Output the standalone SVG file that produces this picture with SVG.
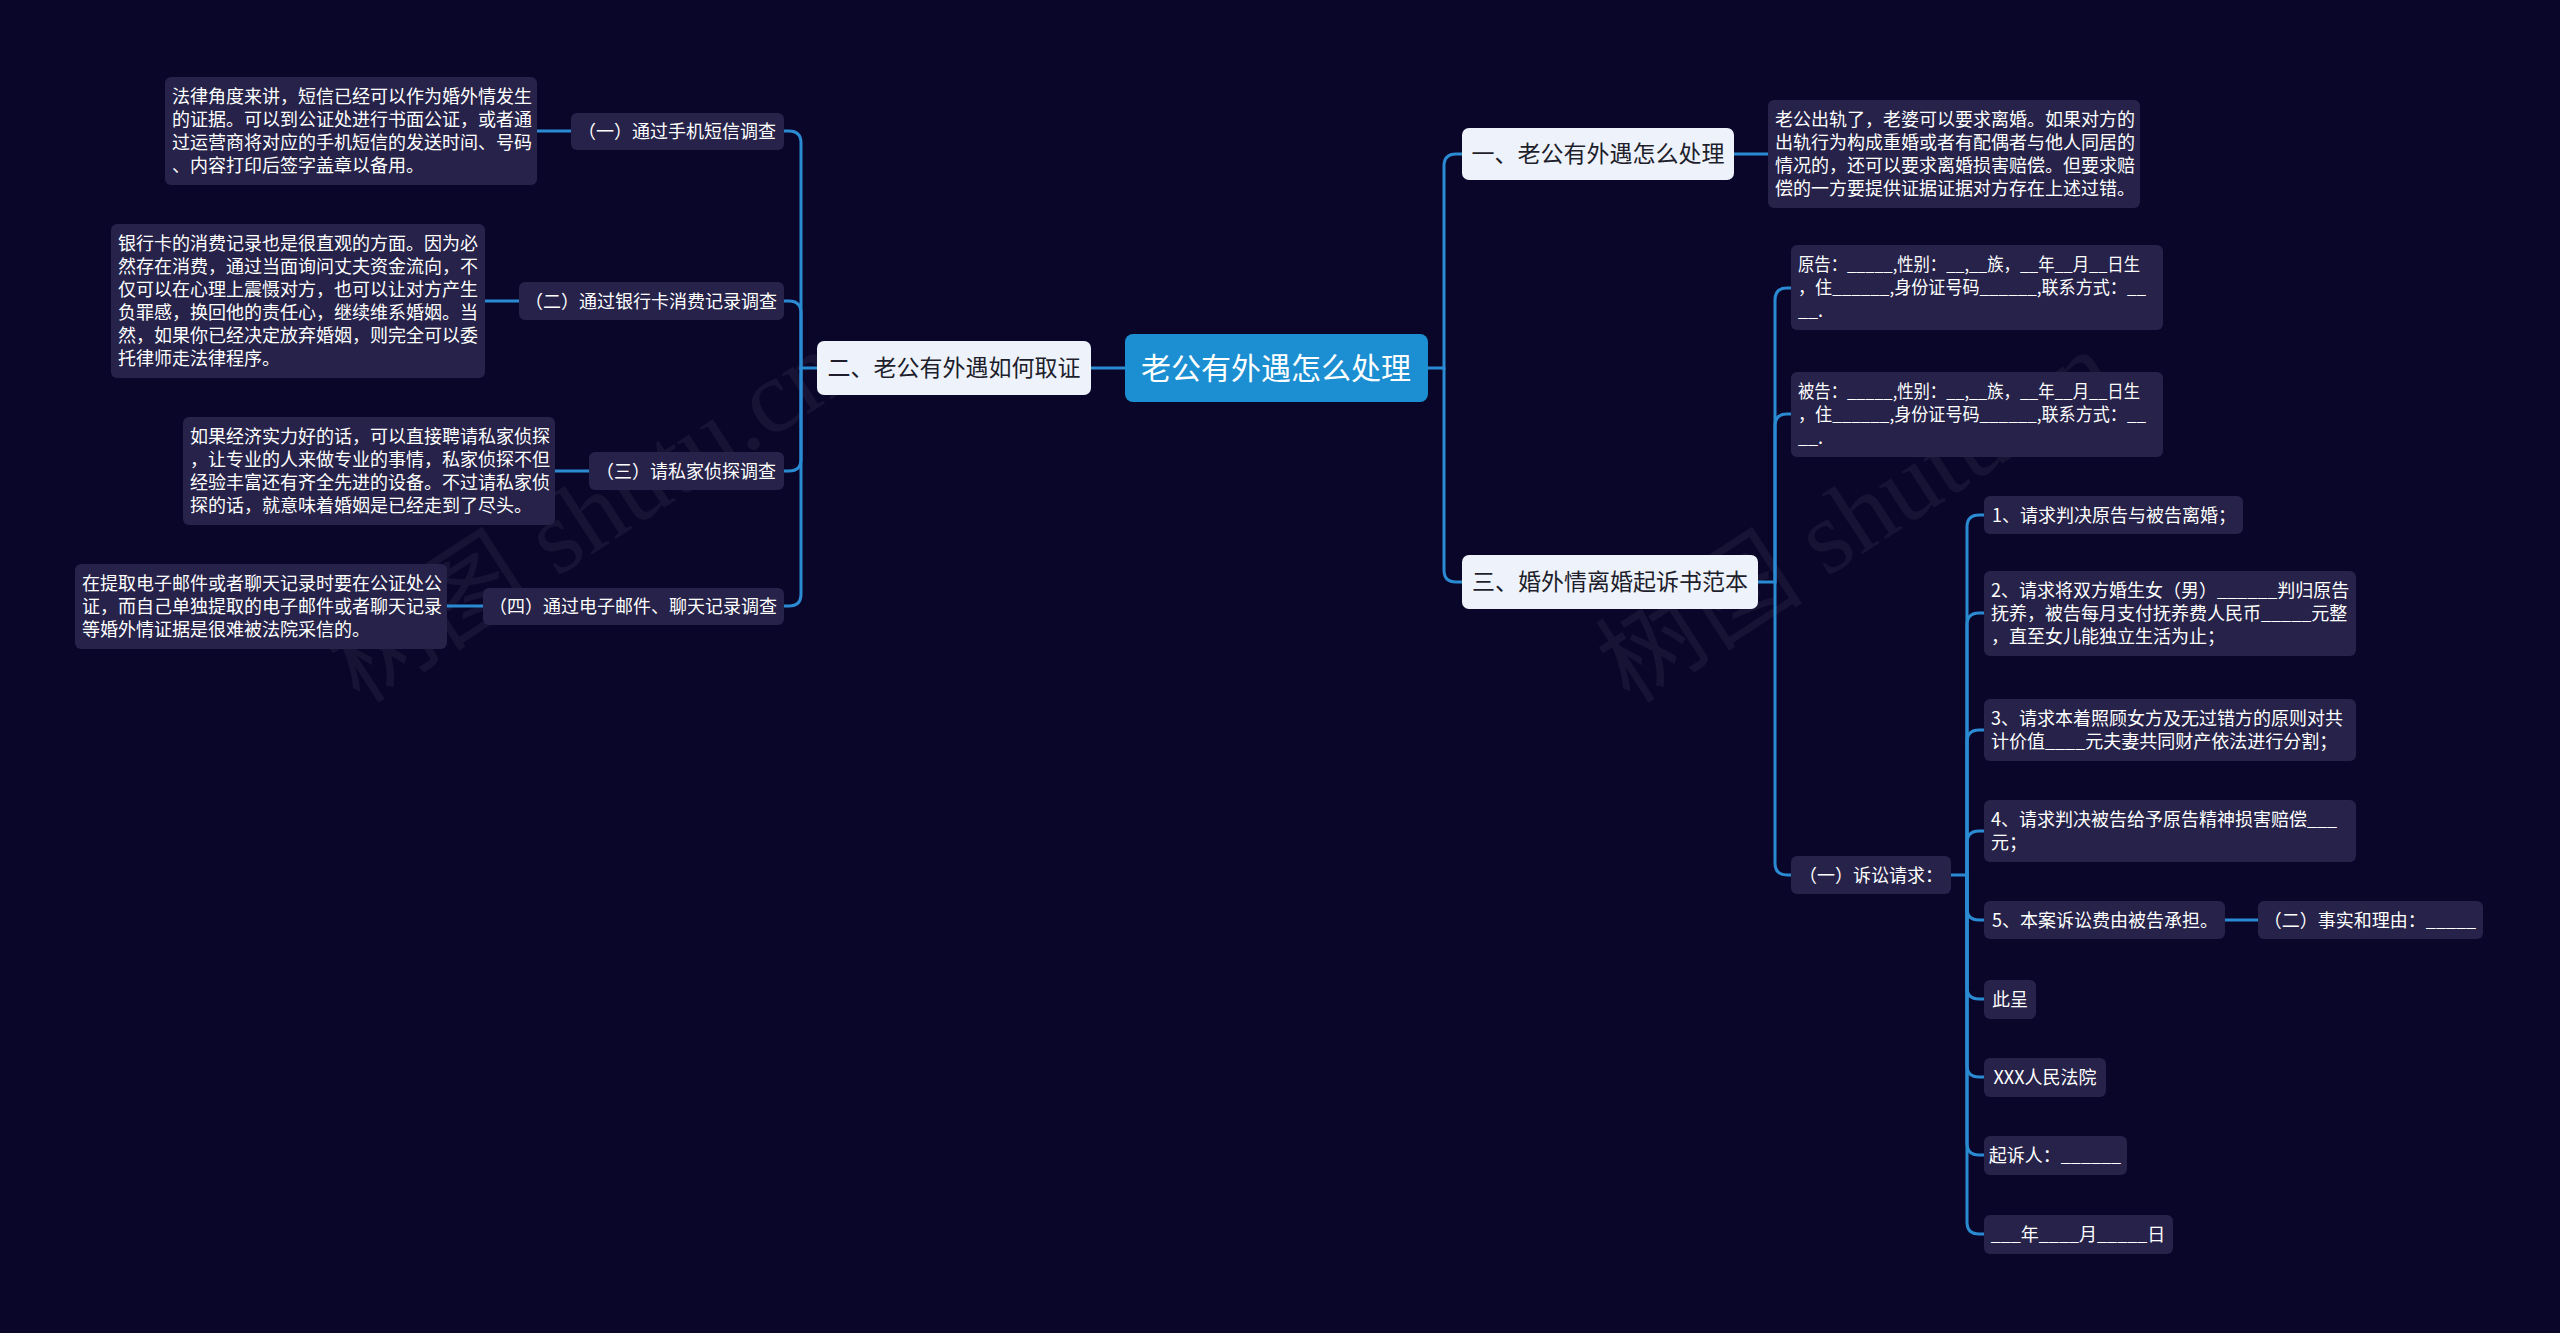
<svg xmlns="http://www.w3.org/2000/svg" width="2560" height="1333" viewBox="0 0 2560 1333">
<style>
.bg{fill:#0a062a}
.root rect{fill:#1b8fd1}
.root text{fill:#ffffff;font-size:30px}
.br rect{fill:#eef3fb}
.br text{fill:#1e1e2c;font-size:23px}
.nd rect{fill:#262249}
.nd text{fill:#ffffff;font-size:18px}
text{font-family:"Noto Sans CJK SC","Microsoft YaHei",sans-serif}
.c{text-anchor:middle}
.wm{font-family:"Liberation Serif","Noto Sans CJK SC",serif;font-size:104px;fill:#ffffff;opacity:0.05}
#connectors{fill:none;stroke:#2a8bd3;stroke-width:3;stroke-linecap:round}
</style>
<rect class="bg" x="0" y="0" width="2560" height="1333"/>
<g id="watermark">
<text class="wm" transform="translate(360,705) rotate(-33)">树图 shutu.cn</text>
<text class="wm" transform="translate(1630,705) rotate(-33)">树图 shutu.cn</text>
</g>
<g id="connectors">
<path d="M1125,368 H1091"/>
<path d="M817,368 H801 V143 Q801,131 789,131 H784"/>
<path d="M801,368 V313 Q801,301 789,301 H784"/>
<path d="M801,368 V459 Q801,471 789,471 H784"/>
<path d="M801,368 V594 Q801,606 789,606 H784"/>
<path d="M537,131 H571"/>
<path d="M485,301 H519"/>
<path d="M555,471 H589"/>
<path d="M447,606 H483"/>
<path d="M1428,368 H1444 V166 Q1444,154 1456,154 H1462"/>
<path d="M1444,368 V570 Q1444,582 1456,582 H1462"/>
<path d="M1734,154 H1768"/>
<path d="M1758,582 H1775 V300 Q1775,288 1787,288 H1791"/>
<path d="M1775,582 V426 Q1775,414 1787,414 H1791"/>
<path d="M1775,582 V863 Q1775,875 1787,875 H1791"/>
<path d="M1951,875 H1967 V527 Q1967,515 1979,515 H1984"/>
<path d="M1967,875 V625 Q1967,613 1979,613 H1984"/>
<path d="M1967,875 V742 Q1967,730 1979,730 H1984"/>
<path d="M1967,875 V843 Q1967,831 1979,831 H1984"/>
<path d="M1967,875 V908 Q1967,920 1979,920 H1984"/>
<path d="M1967,875 V987 Q1967,999 1979,999 H1984"/>
<path d="M1967,875 V1065 Q1967,1077 1979,1077 H1984"/>
<path d="M1967,875 V1143 Q1967,1155 1979,1155 H1984"/>
<path d="M1967,875 V1222 Q1967,1234 1979,1234 H1984"/>
<path d="M2225,920 H2258"/>
</g>
<g id="root" class="root"><rect x="1125" y="334" width="303" height="68" rx="8"/><text class="c" x="1276" y="379">老公有外遇怎么处理</text></g>
<g id="b2" class="br"><rect x="817" y="341" width="274" height="54" rx="7"/><text class="c" x="954" y="376">二、老公有外遇如何取证</text></g>
<g id="b1" class="br"><rect x="1462" y="128" width="272" height="52" rx="7"/><text class="c" x="1598" y="162">一、老公有外遇怎么处理</text></g>
<g id="b3" class="br"><rect x="1462" y="555" width="296" height="54" rx="7"/><text class="c" x="1610" y="590">三、婚外情离婚起诉书范本</text></g>
<g id="s1" class="nd"><rect x="571" y="113" width="213" height="37" rx="6"/><text class="c" x="677" y="138">（一）通过手机短信调查</text></g>
<g id="s2" class="nd"><rect x="519" y="282" width="265" height="38" rx="6"/><text class="c" x="651" y="308">（二）通过银行卡消费记录调查</text></g>
<g id="s3" class="nd"><rect x="589" y="452" width="195" height="38" rx="6"/><text class="c" x="686" y="478">（三）请私家侦探调查</text></g>
<g id="s4" class="nd"><rect x="483" y="588" width="301" height="37" rx="6"/><text class="c" x="633" y="613">（四）通过电子邮件、聊天记录调查</text></g>
<g id="d1" class="nd"><rect x="165" y="77" width="372" height="108" rx="6"/><text x="172"><tspan x="172" y="103">法律角度来讲，短信已经可以作为婚外情发生</tspan><tspan x="172" y="126">的证据。可以到公证处进行书面公证，或者通</tspan><tspan x="172" y="149">过运营商将对应的手机短信的发送时间、号码</tspan><tspan x="172" y="172">、内容打印后签字盖章以备用。</tspan></text></g>
<g id="d2" class="nd"><rect x="111" y="224" width="374" height="154" rx="6"/><text x="118"><tspan x="118" y="250">银行卡的消费记录也是很直观的方面。因为必</tspan><tspan x="118" y="273">然存在消费，通过当面询问丈夫资金流向，不</tspan><tspan x="118" y="296">仅可以在心理上震慑对方，也可以让对方产生</tspan><tspan x="118" y="319">负罪感，换回他的责任心，继续维系婚姻。当</tspan><tspan x="118" y="342">然，如果你已经决定放弃婚姻，则完全可以委</tspan><tspan x="118" y="365">托律师走法律程序。</tspan></text></g>
<g id="d3" class="nd"><rect x="183" y="417" width="372" height="108" rx="6"/><text x="190"><tspan x="190" y="443">如果经济实力好的话，可以直接聘请私家侦探</tspan><tspan x="190" y="466">，让专业的人来做专业的事情，私家侦探不但</tspan><tspan x="190" y="489">经验丰富还有齐全先进的设备。不过请私家侦</tspan><tspan x="190" y="512">探的话，就意味着婚姻是已经走到了尽头。</tspan></text></g>
<g id="d4" class="nd"><rect x="75" y="564" width="372" height="85" rx="6"/><text x="82"><tspan x="82" y="590">在提取电子邮件或者聊天记录时要在公证处公</tspan><tspan x="82" y="613">证，而自己单独提取的电子邮件或者聊天记录</tspan><tspan x="82" y="636">等婚外情证据是很难被法院采信的。</tspan></text></g>
<g id="r1" class="nd"><rect x="1768" y="100" width="372" height="108" rx="6"/><text x="1775"><tspan x="1775" y="126">老公出轨了，老婆可以要求离婚。如果对方的</tspan><tspan x="1775" y="149">出轨行为构成重婚或者有配偶者与他人同居的</tspan><tspan x="1775" y="172">情况的，还可以要求离婚损害赔偿。但要求赔</tspan><tspan x="1775" y="195">偿的一方要提供证据证据对方存在上述过错。</tspan></text></g>
<g id="p1" class="nd"><rect x="1791" y="245" width="372" height="85" rx="6"/><text x="1798"><tspan x="1798" y="271" textLength="342" lengthAdjust="spacingAndGlyphs">原告：_____,性别：__,__族，__年__月__日生</tspan><tspan x="1798" y="294" textLength="348" lengthAdjust="spacingAndGlyphs">，住______,身份证号码______,联系方式：__</tspan><tspan x="1798" y="317">__.</tspan></text></g>
<g id="p2" class="nd"><rect x="1791" y="372" width="372" height="85" rx="6"/><text x="1798"><tspan x="1798" y="398" textLength="342" lengthAdjust="spacingAndGlyphs">被告：_____,性别：__,__族，__年__月__日生</tspan><tspan x="1798" y="421" textLength="348" lengthAdjust="spacingAndGlyphs">，住______,身份证号码______,联系方式：__</tspan><tspan x="1798" y="444">__.</tspan></text></g>
<g id="q" class="nd"><rect x="1791" y="856" width="160" height="38" rx="6"/><text class="c" x="1871" y="882">（一）诉讼请求：</text></g>
<g id="i1" class="nd"><rect x="1984" y="496" width="259" height="38" rx="6"/><text x="1992" y="522">1、请求判决原告与被告离婚；</text></g>
<g id="i2" class="nd"><rect x="1984" y="571" width="372" height="85" rx="6"/><text x="1991"><tspan x="1991" y="597">2、请求将双方婚生女（男）______判归原告</tspan><tspan x="1991" y="620">抚养，被告每月支付抚养费人民币_____元整</tspan><tspan x="1991" y="643">，直至女儿能独立生活为止；</tspan></text></g>
<g id="i3" class="nd"><rect x="1984" y="699" width="372" height="62" rx="6"/><text x="1991"><tspan x="1991" y="725">3、请求本着照顾女方及无过错方的原则对共</tspan><tspan x="1991" y="748">计价值____元夫妻共同财产依法进行分割；</tspan></text></g>
<g id="i4" class="nd"><rect x="1984" y="800" width="372" height="62" rx="6"/><text x="1991"><tspan x="1991" y="826">4、请求判决被告给予原告精神损害赔偿___</tspan><tspan x="1991" y="849">元；</tspan></text></g>
<g id="i5" class="nd"><rect x="1984" y="901" width="241" height="38" rx="6"/><text x="1992" y="927">5、本案诉讼费由被告承担。</text></g>
<g id="f" class="nd"><rect x="2258" y="901" width="225" height="38" rx="6"/><text class="c" x="2370" y="927">（二）事实和理由：_____</text></g>
<g id="i6" class="nd"><rect x="1984" y="980" width="52" height="39" rx="6"/><text class="c" x="2010" y="1006">此呈</text></g>
<g id="i7" class="nd"><rect x="1984" y="1058" width="122" height="39" rx="6"/><text class="c" x="2045" y="1084">XXX人民法院</text></g>
<g id="i8" class="nd"><rect x="1984" y="1136" width="143" height="39" rx="6"/><text class="c" x="2055" y="1162">起诉人：______</text></g>
<g id="i9" class="nd"><rect x="1984" y="1215" width="189" height="39" rx="6"/><text class="c" x="2078" y="1241">___年____月_____日</text></g>
</svg>
